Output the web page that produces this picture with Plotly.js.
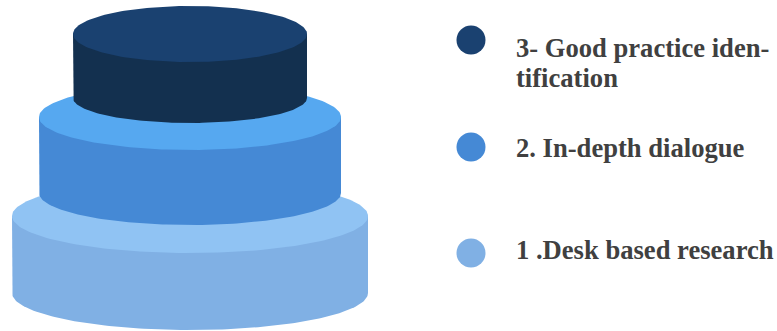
<!DOCTYPE html>
<html><head><meta charset="utf-8">
<script src="https://cdn.plot.ly/plotly-3.0.1.min.js"></script>
<style>html,body{margin:0;padding:0;background:#fff}#chart{width:777px;height:331px}</style>
</head><body><div id="chart"></div>
<script>
// Data: tiers from bottom to top
const tierLabels = ["1 .Desk based research", "2. In-depth dialogue", "3- Good practice iden-<br>tification"];
const tierLevels = [1, 2, 3];
const faceColors = ["#90c3f3", "#56a8f0", "#1a4170"];
const sideColors = ["#80b0e4", "#4589d5", "#13304f"];
const markerColors = ["#80b0e4", "#4589d5", "#1a4170"];

// Layout geometry (pixel-space axes)
const W = 777, H = 331;
const cx = 190;
const geo = [
  {rx: 178, yTop: 216, yBot: 293, ryTop: 37, ryBot: 37},
  {rx: 151, yTop: 117, yBot: 193, ryTop: 33, ryBot: 32},
  {rx: 117, yTop: 34,  yBot: 98,  ryTop: 28, ryBot: 25}
];
const legendY = [253, 147, 40];
const textY = [[250], [148], [48, 78]];

function arc(cx, cy, rx, ry, a0, a1, n) {
  const xs = [], ys = [];
  for (let i = 0; i <= n; i++) {
    const a = a0 + (a1 - a0) * i / n;
    xs.push(cx + rx * Math.cos(a));
    ys.push(cy + ry * Math.sin(a));
  }
  return [xs, ys];
}

const traces = [];
tierLevels.forEach((lv, i) => {
  const g = geo[i];
  const [bx, by] = arc(cx, g.yBot, g.rx, g.ryBot, Math.PI, 0, 120);
  const sx = [cx - g.rx].concat(bx).concat([cx + g.rx]);
  const sy = [g.yTop].concat(by.map(v => g.yBot + Math.abs(v - g.yBot))).concat([g.yTop]);
  traces.push({x: sx, y: sy, type: 'scatter', mode: 'lines', fill: 'toself',
    fillcolor: sideColors[i], line: {width: 0, color: sideColors[i]}, hoverinfo: 'skip', showlegend: false});
  const [ex, ey] = arc(cx, g.yTop, g.rx, g.ryTop, 0, 2 * Math.PI, 200);
  traces.push({x: ex, y: ey, type: 'scatter', mode: 'lines', fill: 'toself',
    fillcolor: faceColors[i], line: {width: 0, color: faceColors[i]}, hoverinfo: 'skip', showlegend: false});
});

// legend markers
traces.push({x: tierLevels.map(() => 471), y: legendY, type: 'scatter', mode: 'markers',
  marker: {size: 29, color: markerColors}, hoverinfo: 'skip', showlegend: false});

const annotations = [];
tierLabels.forEach((t, i) => {
  t.split('<br>').forEach((ln, k) => {
    annotations.push({x: 514, y: textY[i][k], xref: 'x', yref: 'y', text: ln,
      showarrow: false, xanchor: 'left', yanchor: 'middle',
      font: {family: 'Liberation Serif', weight: 'bold', size: 26.6, color: '#404040'}});
  });
});

const layout = {
  width: W, height: H, margin: {l: 0, r: 0, t: 0, b: 0},
  paper_bgcolor: '#fff', plot_bgcolor: '#fff',
  xaxis: {range: [0, W], visible: false, fixedrange: true},
  yaxis: {range: [H, 0], visible: false, fixedrange: true},
  annotations: annotations, showlegend: false
};
Plotly.newPlot('chart', traces, layout, {displayModeBar: false, staticPlot: true});
</script></body></html>
